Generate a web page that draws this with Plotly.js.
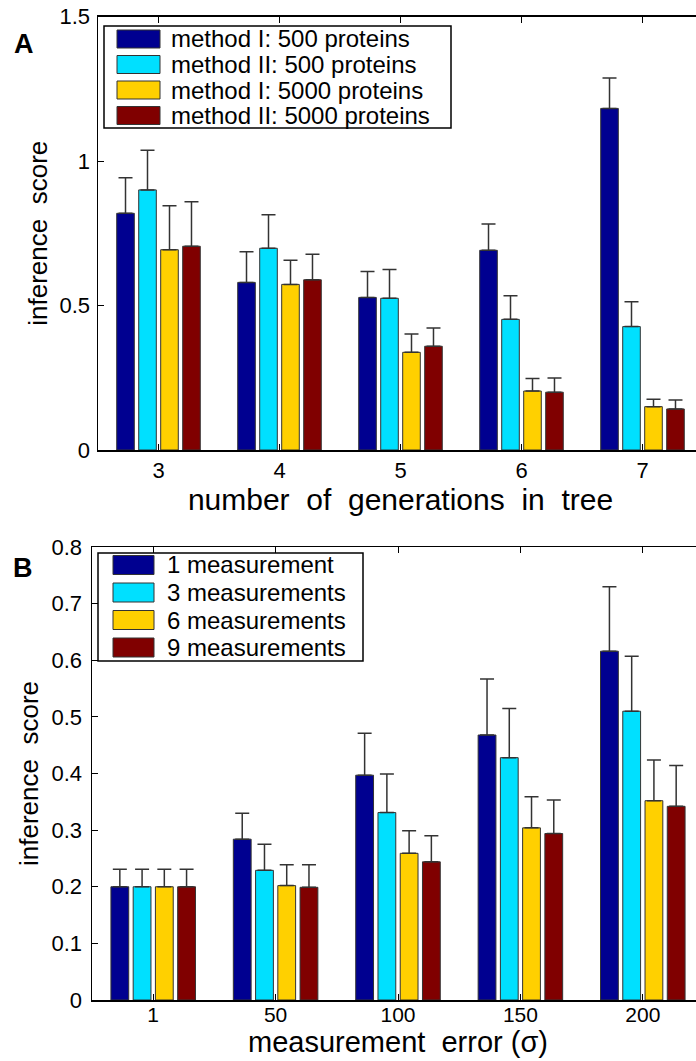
<!DOCTYPE html>
<html>
<head>
<meta charset="utf-8">
<script src="https://cdn.plot.ly/plotly-3.0.1.min.js"></script>
<style>
html,body{margin:0;padding:0;overflow:hidden;background:#fff;}
#chart{width:710px;height:1061px;}
</style>
</head>
<body>
<div id="chart"></div>
<script>
// ---------- data: panel A ----------
const categoriesA = ['3', '4', '5', '6', '7'];
const seriesNamesA = ['method I: 500 proteins', 'method II: 500 proteins', 'method I: 5000 proteins', 'method II: 5000 proteins'];
const method1_500 = [0.819, 0.580, 0.528, 0.691, 1.182];
const method2_500 = [0.900, 0.698, 0.525, 0.452, 0.427];
const method1_5000 = [0.693, 0.573, 0.338, 0.204, 0.150];
const method2_5000 = [0.705, 0.589, 0.359, 0.200, 0.142];
const errMethod1_500 = [0.123, 0.106, 0.090, 0.091, 0.105];
const errMethod2_500 = [0.137, 0.116, 0.100, 0.082, 0.086];
const errMethod1_5000 = [0.152, 0.084, 0.063, 0.043, 0.026];
const errMethod2_5000 = [0.154, 0.088, 0.063, 0.049, 0.031];

// ---------- data: panel B ----------
const categoriesB = ['1', '50', '100', '150', '200'];
const seriesNamesB = ['1 measurement', '3 measurements', '6 measurements', '9 measurements'];
const meas1 = [0.200, 0.284, 0.397, 0.468, 0.616];
const meas3 = [0.200, 0.229, 0.331, 0.428, 0.510];
const meas6 = [0.200, 0.202, 0.259, 0.304, 0.352];
const meas9 = [0.200, 0.199, 0.244, 0.294, 0.342];
const errMeas1 = [0.031, 0.046, 0.074, 0.099, 0.114];
const errMeas3 = [0.031, 0.046, 0.068, 0.087, 0.097];
const errMeas6 = [0.031, 0.037, 0.040, 0.055, 0.072];
const errMeas9 = [0.031, 0.040, 0.046, 0.059, 0.072];

const colors = ['#000090', '#00E0FF', '#FFD000', '#800000'];

// ---------- styling ----------
const FONT = 'Liberation Sans, Arial, Helvetica, sans-serif';
const ML = 92, MR = 6, MT = 16, MB = 61, W = 710, H = 1061;
const PW = W - ML - MR, PH = H - MT - MB;
const px = x => (x - ML) / PW;
const py = y => (H - MB - y) / PH;

function barTrace(x, y, err, i, name, xa, ya) {
  return {
    type: 'bar', x: x, y: y, name: name, xaxis: xa, yaxis: ya,
    showlegend: false,
    marker: {color: colors[i], line: {color: '#333333', width: 1}},
    error_y: {type: 'data', array: err, arrayminus: err.map(() => 0), symmetric: false,
              visible: true, color: '#333333', thickness: 1.5, width: 7}
  };
}

const seriesA = [method1_500, method2_500, method1_5000, method2_5000];
const errsA = [errMethod1_500, errMethod2_500, errMethod1_5000, errMethod2_5000];
const seriesB = [meas1, meas3, meas6, meas9];
const errsB = [errMeas1, errMeas3, errMeas6, errMeas9];

const data = [];
seriesA.forEach((s, i) => data.push(barTrace(categoriesA, s, errsA[i], i, seriesNamesA[i], 'x', 'y')));
seriesB.forEach((s, i) => data.push(barTrace(categoriesB, s, errsB[i], i, seriesNamesB[i], 'x2', 'y2')));

// manual legends (MATLAB style boxes)
const shapes = [];
const annotations = [];
function legend(names, box, swX, rows, swH, textX) {
  shapes.push({type: 'rect', xref: 'paper', yref: 'paper',
    x0: px(box[0]), x1: px(box[1]), y0: py(box[3]), y1: py(box[2]),
    line: {color: '#000', width: 1.5}, fillcolor: '#fff', layer: 'above'});
  names.forEach((n, i) => {
    shapes.push({type: 'rect', xref: 'paper', yref: 'paper',
      x0: px(swX[0]), x1: px(swX[1]), y0: py(rows[i] + swH / 2), y1: py(rows[i] - swH / 2),
      line: {color: '#333', width: 1}, fillcolor: colors[i], layer: 'above'});
    annotations.push({xref: 'paper', yref: 'paper', x: px(textX), y: py(rows[i]),
      xanchor: 'left', yanchor: 'middle', showarrow: false, text: n,
      font: {family: FONT, size: 24, color: '#000'}});
  });
}
legend(seriesNamesA, [104, 451, 26, 128], [117, 160], [39, 64.5, 90, 115.5], 18, 169);
legend(seriesNamesB, [98, 363, 553, 661], [113, 154], [565, 592.5, 620, 647.5], 19, 165);

annotations.push({xref: 'paper', yref: 'paper', x: px(24), y: py(44), xanchor: 'center', yanchor: 'middle',
  showarrow: false, text: '<b>A</b>', font: {family: FONT, size: 27, color: '#000'}});
annotations.push({xref: 'paper', yref: 'paper', x: px(23), y: py(568), xanchor: 'center', yanchor: 'middle',
  showarrow: false, text: '<b>B</b>', font: {family: FONT, size: 27, color: '#000'}});

const axisCommon = {
  showline: true, linecolor: '#000', linewidth: 1.5, mirror: 'ticks',
  ticks: 'inside', ticklen: 6, tickwidth: 1, tickcolor: '#000',
  showgrid: false, zeroline: false, fixedrange: true,
  tickfont: {family: FONT, size: 22, color: '#000'}
};

const layout = {
  width: W, height: H,
  margin: {l: ML, r: MR, t: MT, b: MB},
  paper_bgcolor: '#fff', plot_bgcolor: '#fff',
  barmode: 'group', bargap: 0.273, bargroupgap: 0.2,
  showlegend: false,
  xaxis: Object.assign({}, axisCommon, {
    type: 'category', anchor: 'y', domain: [px(98), px(703)], range: [-0.5, 4.5],
    title: {text: 'number\u00A0 of\u00A0 generations\u00A0 in\u00A0 tree', standoff: 2,
            font: {family: FONT, size: 30, color: '#000'}}
  }),
  yaxis: Object.assign({}, axisCommon, {
    anchor: 'x', domain: [py(450), py(16.5)], range: [0, 1.5], dtick: 0.5, tick0: 0,
    ticklabelstandoff: 2,
    title: {text: 'inference\u00A0 score', standoff: 4, font: {family: FONT, size: 26, color: '#000'}}
  }),
  xaxis2: Object.assign({}, axisCommon, {
    type: 'category', anchor: 'y2', domain: [0, 1], range: [-0.5, 4.5],
    ticklabelstandoff: -5,
    tickfont: {family: FONT, size: 21, color: '#000'},
    title: {text: 'measurement\u00A0 error (σ)', standoff: 0,
            font: {family: FONT, size: 29, color: '#000'}}
  }),
  yaxis2: Object.assign({}, axisCommon, {
    anchor: 'x2', domain: [0, py(547)], range: [0, 0.8], dtick: 0.1, tick0: 0,
    ticklabelstandoff: 4,
    title: {text: 'inference\u00A0 score', standoff: 5, font: {family: FONT, size: 26, color: '#000'}}
  }),
  shapes: shapes,
  annotations: annotations
};

Plotly.newPlot('chart', data, layout, {displayModeBar: false, staticPlot: true});
</script>
</body>
</html>
